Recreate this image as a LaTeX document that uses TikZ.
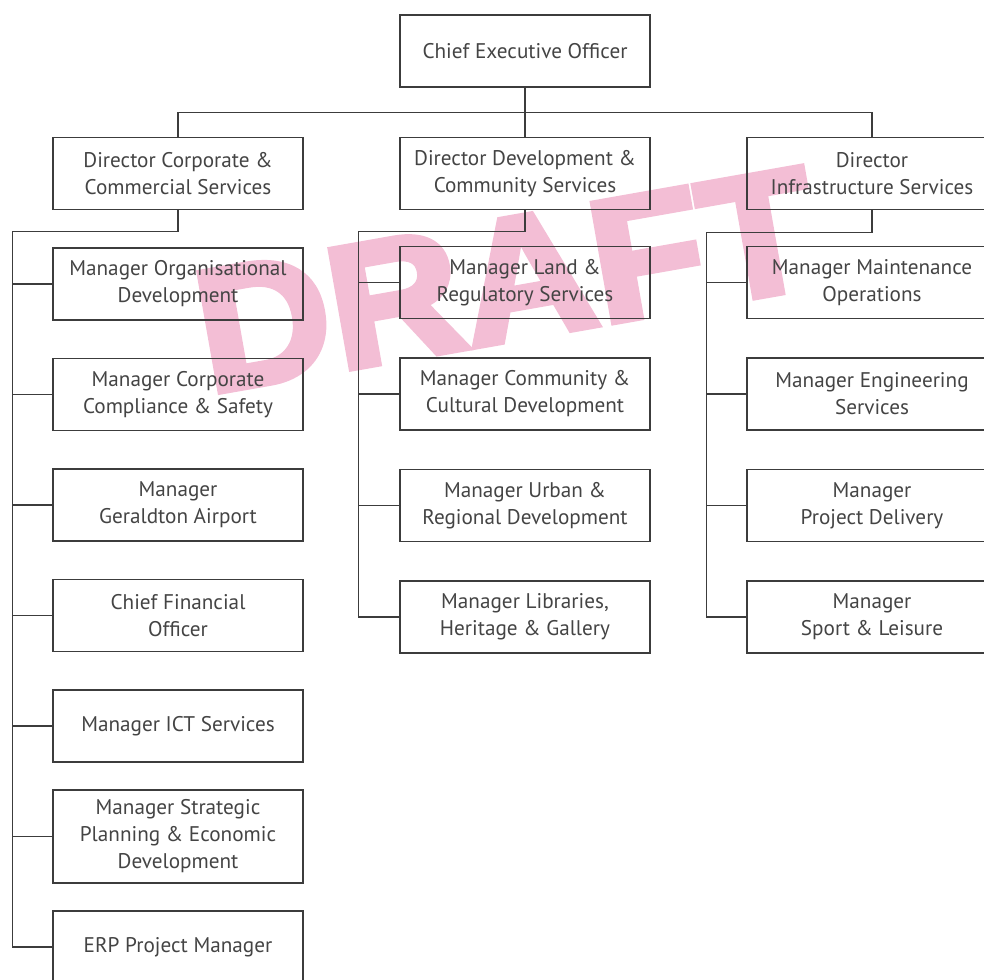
\documentclass[tikz,border=0pt]{standalone}
\usepackage{fontspec}
\setmainfont{PT Sans}
\newfontfamily\draftfont{Liberation Sans Bold}[FakeBold=4, FakeStretch=1.06]
\usetikzlibrary{positioning}

\definecolor{linegray}{RGB}{60,60,60}
\definecolor{textgray}{RGB}{68,68,68}
\definecolor{draftpink}{RGB}{243,190,213}

\tikzset{
    box/.style={draw=linegray, line width=0.75pt, minimum width=125pt, minimum height=36pt,
        align=center, text=textgray, font=\fontsize{10.6}{13.5}\selectfont, inner sep=2pt},
    tallbox/.style={box, minimum height=46.5pt},
    wire/.style={draw=linegray, line width=0.75pt},
    draft/.style={text=draftpink, rotate=10, inner sep=0pt,
        font=\draftfont\fontsize{87}{87}\selectfont},
}

\begin{document}
\begin{tikzpicture}[on grid] % organisation chart with draft stamp
    \useasboundingbox (0,0) rectangle (492pt,-489.5pt);
    \clip (0,0) rectangle (492pt,-489.5pt);

    \node[draft] (stamp) at (253pt,-140pt) {DRAFT};

    \node[box] (ceo) at (262.5pt,-25.5pt) {Chief Executive Officer};
    \node[box, below=61.25pt of ceo] (d2) {Director Development \&\\Community Services};
    \node[box, left=173.5pt of d2] (d1) {Director Corporate \&\\Commercial Services};
    \node[box, right=173.5pt of d2] (d3) {Director\\Infrastructure Services};

    % corporate & commercial
    \node[box, below=55.25pt of d1] (a1) {Manager Organisational\\Development};
    \node[box, below=55.25pt of a1] (a2) {Manager Corporate\\Compliance \& Safety};
    \node[box, below=55.25pt of a2] (a3) {Manager\\Geraldton Airport};
    \node[box, below=55.25pt of a3] (a4) {Chief Financial\\Officer};
    \node[box, below=55.25pt of a4] (a5) {Manager ICT Services};
    \node[tallbox, below=55.25pt of a5] (a6) {Manager Strategic\\Planning \& Economic\\Development};
    \node[box, below=55.25pt of a6] (a7) {ERP Project Manager};

    % development & community
    \node[box, below=54.5pt of d2] (b1) {Manager Land \&\\Regulatory Services};
    \node[box, below=55.75pt of b1] (b2) {Manager Community \&\\Cultural Development};
    \node[box, below=55.75pt of b2] (b3) {Manager Urban \&\\Regional Development};
    \node[box, below=55.75pt of b3] (b4) {Manager Libraries,\\Heritage \& Gallery};

    % infrastructure
    \node[box, below=54.5pt of d3] (c1) {Manager Maintenance\\Operations};
    \node[box, below=55.75pt of c1] (c2) {Manager Engineering\\Services};
    \node[box, below=55.75pt of c2] (c3) {Manager\\Project Delivery};
    \node[box, below=55.75pt of c3] (c4) {Manager\\Sport \& Leisure};

    \coordinate[below=12.5pt of ceo.south] (bus);
    \draw[wire] (ceo) -- (d2);
    \draw[wire] (d1) |- (bus) -| (d3);

    \coordinate[below=10.5pt of d1.south] (e1);
    \coordinate[left=20pt of a7.west] (s1);
    \draw[wire] (d1) -- (e1) -| (s1) -- (a7);
    \foreach \n in {a1,a2,a3,a4,a5,a6}
        \draw[wire] (\n) -- (\n -| s1);

    \coordinate[below=10.5pt of d2.south] (e2);
    \coordinate[left=20.5pt of b4.west] (s2);
    \draw[wire] (d2) -- (e2) -| (s2) -- (b4);
    \foreach \n in {b1,b2,b3}
        \draw[wire] (\n) -- (\n -| s2);

    \coordinate[below=11pt of d3.south] (e3);
    \coordinate[left=20pt of c4.west] (s3);
    \draw[wire] (d3) -- (e3) -| (s3) -- (c4);
    \foreach \n in {c1,c2,c3}
        \draw[wire] (\n) -- (\n -| s3);
\end{tikzpicture}
\end{document}
